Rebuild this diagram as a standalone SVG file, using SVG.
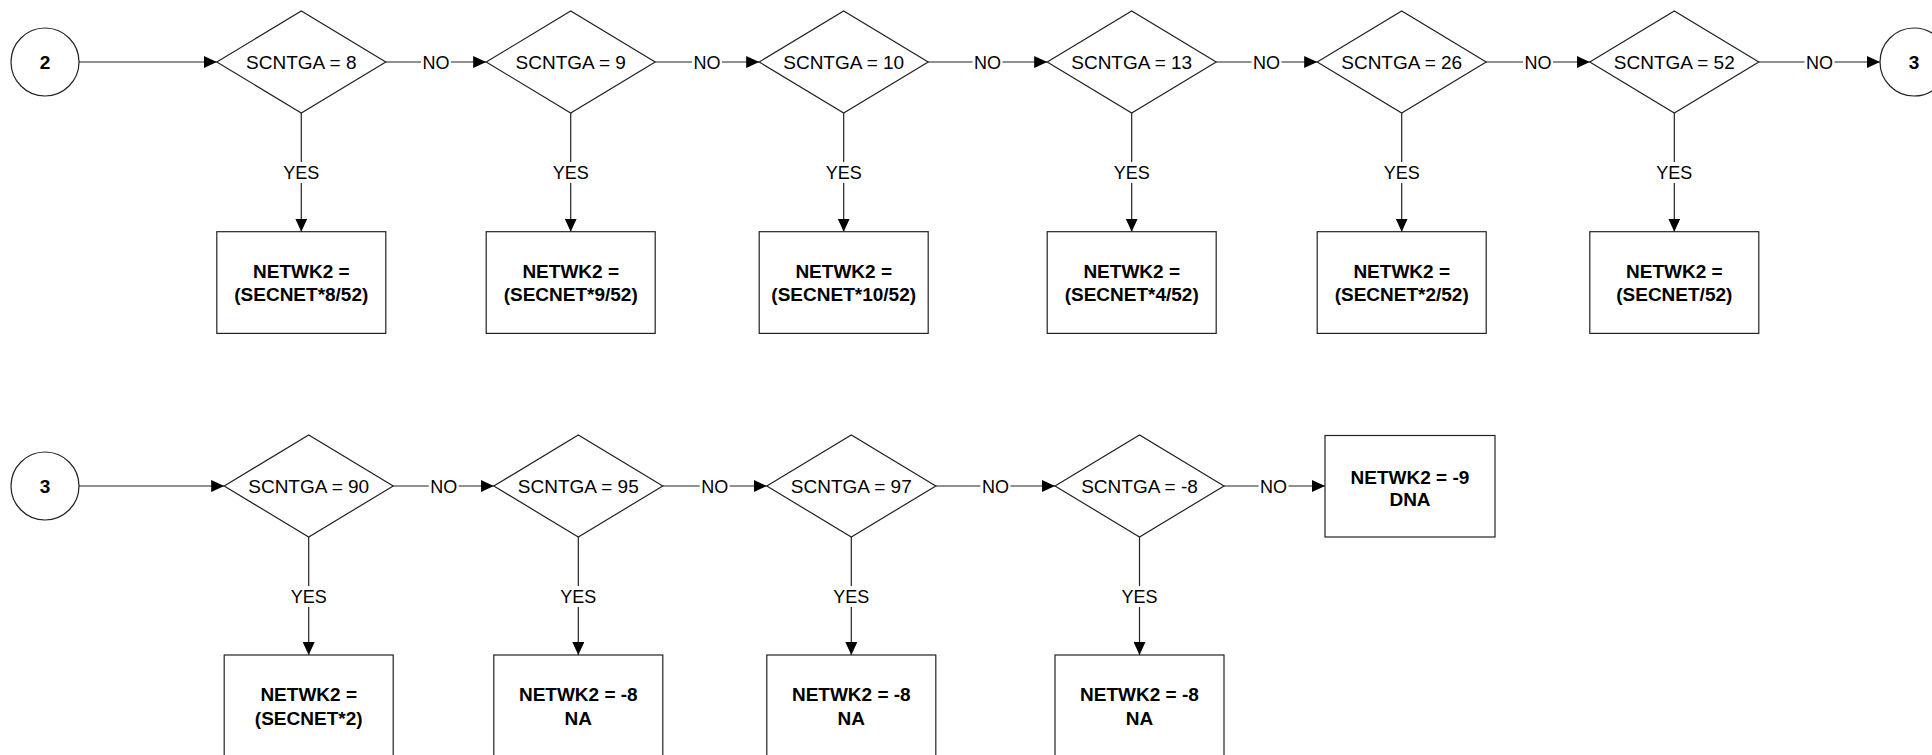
<svg xmlns="http://www.w3.org/2000/svg" width="1932" height="755" viewBox="0 0 1932 755">
<style>
.shape{fill:#fff;stroke:#222;stroke-width:1.2}
.conn{fill:none;stroke:#222;stroke-width:1.2}
.dt{font-family:"Liberation Sans",Arial,sans-serif;font-size:19px;fill:#000;text-anchor:middle}
.bt{font-family:"Liberation Sans",Arial,sans-serif;font-size:19px;font-weight:bold;fill:#000;text-anchor:middle}
.lb{font-family:"Liberation Sans",Arial,sans-serif;font-size:18px;fill:#000;text-anchor:middle}
.lbg{fill:#fff;stroke:none}
</style>
<defs>
<marker id="arr" markerUnits="userSpaceOnUse" markerWidth="14" markerHeight="12" refX="13" refY="6" orient="auto">
<path d="M0,0 L13,6 L0,12 z" fill="#000"/>
</marker>
</defs>
<rect width="1932" height="755" fill="#fff"/>

<g id="connectors">
<!-- row 1 -->
<line class="conn" x1="79" y1="62" x2="216.8" y2="62" marker-end="url(#arr)"/>
<line class="conn" x1="385.8" y1="62" x2="486.2" y2="62" marker-end="url(#arr)"/>
<line class="conn" x1="655.2" y1="62" x2="759.2" y2="62" marker-end="url(#arr)"/>
<line class="conn" x1="928.2" y1="62" x2="1047.2" y2="62" marker-end="url(#arr)"/>
<line class="conn" x1="1216.2" y1="62" x2="1317.2" y2="62" marker-end="url(#arr)"/>
<line class="conn" x1="1486.2" y1="62" x2="1589.8" y2="62" marker-end="url(#arr)"/>
<line class="conn" x1="1758.8" y1="62" x2="1880" y2="62" marker-end="url(#arr)"/>
<line class="conn" x1="301.3" y1="113" x2="301.3" y2="231.7" marker-end="url(#arr)"/>
<line class="conn" x1="570.7" y1="113" x2="570.7" y2="231.7" marker-end="url(#arr)"/>
<line class="conn" x1="843.7" y1="113" x2="843.7" y2="231.7" marker-end="url(#arr)"/>
<line class="conn" x1="1131.7" y1="113" x2="1131.7" y2="231.7" marker-end="url(#arr)"/>
<line class="conn" x1="1401.7" y1="113" x2="1401.7" y2="231.7" marker-end="url(#arr)"/>
<line class="conn" x1="1674.3" y1="113" x2="1674.3" y2="231.7" marker-end="url(#arr)"/>
<!-- row 2 -->
<line class="conn" x1="79" y1="486" x2="224.2" y2="486" marker-end="url(#arr)"/>
<line class="conn" x1="393.2" y1="486" x2="493.8" y2="486" marker-end="url(#arr)"/>
<line class="conn" x1="662.8" y1="486" x2="766.8" y2="486" marker-end="url(#arr)"/>
<line class="conn" x1="935.8" y1="486" x2="1055" y2="486" marker-end="url(#arr)"/>
<line class="conn" x1="1224" y1="486" x2="1325" y2="486" marker-end="url(#arr)"/>
<line class="conn" x1="308.7" y1="537" x2="308.7" y2="655" marker-end="url(#arr)"/>
<line class="conn" x1="578.3" y1="537" x2="578.3" y2="655" marker-end="url(#arr)"/>
<line class="conn" x1="851.3" y1="537" x2="851.3" y2="655" marker-end="url(#arr)"/>
<line class="conn" x1="1139.5" y1="537" x2="1139.5" y2="655" marker-end="url(#arr)"/>
<!-- labels -->
<g>
<rect class="lbg" x="421" y="52" width="30" height="20"/><text class="lb" x="436" y="68.5">NO</text>
<rect class="lbg" x="692" y="52" width="30" height="20"/><text class="lb" x="707" y="68.5">NO</text>
<rect class="lbg" x="972.5" y="52" width="30" height="20"/><text class="lb" x="987.5" y="68.5">NO</text>
<rect class="lbg" x="1251.5" y="52" width="30" height="20"/><text class="lb" x="1266.5" y="68.5">NO</text>
<rect class="lbg" x="1523" y="52" width="30" height="20"/><text class="lb" x="1538" y="68.5">NO</text>
<rect class="lbg" x="1804.5" y="52" width="30" height="20"/><text class="lb" x="1819.5" y="68.5">NO</text>
<rect class="lbg" x="281" y="162" width="40" height="21"/><text class="lb" x="301.3" y="178.5">YES</text>
<rect class="lbg" x="550.5" y="162" width="40" height="21"/><text class="lb" x="570.7" y="178.5">YES</text>
<rect class="lbg" x="823.5" y="162" width="40" height="21"/><text class="lb" x="843.7" y="178.5">YES</text>
<rect class="lbg" x="1111.5" y="162" width="40" height="21"/><text class="lb" x="1131.7" y="178.5">YES</text>
<rect class="lbg" x="1381.5" y="162" width="40" height="21"/><text class="lb" x="1401.7" y="178.5">YES</text>
<rect class="lbg" x="1654" y="162" width="40" height="21"/><text class="lb" x="1674.3" y="178.5">YES</text>
<rect class="lbg" x="428.7" y="476" width="30" height="20"/><text class="lb" x="443.7" y="492.5">NO</text>
<rect class="lbg" x="699.7" y="476" width="30" height="20"/><text class="lb" x="714.7" y="492.5">NO</text>
<rect class="lbg" x="980.4" y="476" width="30" height="20"/><text class="lb" x="995.4" y="492.5">NO</text>
<rect class="lbg" x="1258.5" y="476" width="30" height="20"/><text class="lb" x="1273.5" y="492.5">NO</text>
<rect class="lbg" x="288.5" y="586" width="40" height="21"/><text class="lb" x="308.7" y="602.5">YES</text>
<rect class="lbg" x="558" y="586" width="40" height="21"/><text class="lb" x="578.3" y="602.5">YES</text>
<rect class="lbg" x="831" y="586" width="40" height="21"/><text class="lb" x="851.3" y="602.5">YES</text>
<rect class="lbg" x="1119.3" y="586" width="40" height="21"/><text class="lb" x="1139.5" y="602.5">YES</text>
</g>
</g>

<!-- row 1 nodes -->
<g id="c2"><circle class="shape" cx="45" cy="62" r="34"/><text class="bt" x="45" y="68.5">2</text></g>
<g id="d1"><polygon class="shape" points="216.8,62 301.3,11 385.8,62 301.3,113"/><text class="dt" x="301.3" y="68.5">SCNTGA = 8</text></g>
<g id="r1"><rect class="shape" x="216.8" y="231.7" width="169" height="101.7"/><text class="bt" x="301.3" y="277.5">NETWK2 =</text><text class="bt" x="301.3" y="301">(SECNET*8/52)</text></g>
<g id="d2"><polygon class="shape" points="486.2,62 570.7,11 655.2,62 570.7,113"/><text class="dt" x="570.7" y="68.5">SCNTGA = 9</text></g>
<g id="r2"><rect class="shape" x="486.2" y="231.7" width="169" height="101.7"/><text class="bt" x="570.7" y="277.5">NETWK2 =</text><text class="bt" x="570.7" y="301">(SECNET*9/52)</text></g>
<g id="d3"><polygon class="shape" points="759.2,62 843.7,11 928.2,62 843.7,113"/><text class="dt" x="843.7" y="68.5">SCNTGA = 10</text></g>
<g id="r3"><rect class="shape" x="759.2" y="231.7" width="169" height="101.7"/><text class="bt" x="843.7" y="277.5">NETWK2 =</text><text class="bt" x="843.7" y="301">(SECNET*10/52)</text></g>
<g id="d4"><polygon class="shape" points="1047.2,62 1131.7,11 1216.2,62 1131.7,113"/><text class="dt" x="1131.7" y="68.5">SCNTGA = 13</text></g>
<g id="r4"><rect class="shape" x="1047.2" y="231.7" width="169" height="101.7"/><text class="bt" x="1131.7" y="277.5">NETWK2 =</text><text class="bt" x="1131.7" y="301">(SECNET*4/52)</text></g>
<g id="d5"><polygon class="shape" points="1317.2,62 1401.7,11 1486.2,62 1401.7,113"/><text class="dt" x="1401.7" y="68.5">SCNTGA = 26</text></g>
<g id="r5"><rect class="shape" x="1317.2" y="231.7" width="169" height="101.7"/><text class="bt" x="1401.7" y="277.5">NETWK2 =</text><text class="bt" x="1401.7" y="301">(SECNET*2/52)</text></g>
<g id="d6"><polygon class="shape" points="1589.8,62 1674.3,11 1758.8,62 1674.3,113"/><text class="dt" x="1674.3" y="68.5">SCNTGA = 52</text></g>
<g id="r6"><rect class="shape" x="1589.8" y="231.7" width="169" height="101.7"/><text class="bt" x="1674.3" y="277.5">NETWK2 =</text><text class="bt" x="1674.3" y="301">(SECNET/52)</text></g>
<g id="c3a"><circle class="shape" cx="1914" cy="62" r="34"/><text class="bt" x="1914" y="68.5">3</text></g>

<!-- row 2 nodes -->
<g id="c3b"><circle class="shape" cx="45" cy="486" r="34"/><text class="bt" x="45" y="492.5">3</text></g>
<g id="d7"><polygon class="shape" points="224.2,486 308.7,435 393.2,486 308.7,537"/><text class="dt" x="308.7" y="492.5">SCNTGA = 90</text></g>
<g id="r7"><rect class="shape" x="224.2" y="655" width="169" height="101.7"/><text class="bt" x="308.7" y="701">NETWK2 =</text><text class="bt" x="308.7" y="724.5">(SECNET*2)</text></g>
<g id="d8"><polygon class="shape" points="493.8,486 578.3,435 662.8,486 578.3,537"/><text class="dt" x="578.3" y="492.5">SCNTGA = 95</text></g>
<g id="r8"><rect class="shape" x="493.8" y="655" width="169" height="101.7"/><text class="bt" x="578.3" y="701">NETWK2 = -8</text><text class="bt" x="578.3" y="724.5">NA</text></g>
<g id="d9"><polygon class="shape" points="766.8,486 851.3,435 935.8,486 851.3,537"/><text class="dt" x="851.3" y="492.5">SCNTGA = 97</text></g>
<g id="r9"><rect class="shape" x="766.8" y="655" width="169" height="101.7"/><text class="bt" x="851.3" y="701">NETWK2 = -8</text><text class="bt" x="851.3" y="724.5">NA</text></g>
<g id="d10"><polygon class="shape" points="1055,486 1139.5,435 1224,486 1139.5,537"/><text class="dt" x="1139.5" y="492.5">SCNTGA = -8</text></g>
<g id="r10"><rect class="shape" x="1055" y="655" width="169" height="101.7"/><text class="bt" x="1139.5" y="701">NETWK2 = -8</text><text class="bt" x="1139.5" y="724.5">NA</text></g>
<g id="r11"><rect class="shape" x="1325" y="435.5" width="170" height="101.5"/><text class="bt" x="1410" y="484">NETWK2 = -9</text><text class="bt" x="1410" y="505.5">DNA</text></g>
</svg>
